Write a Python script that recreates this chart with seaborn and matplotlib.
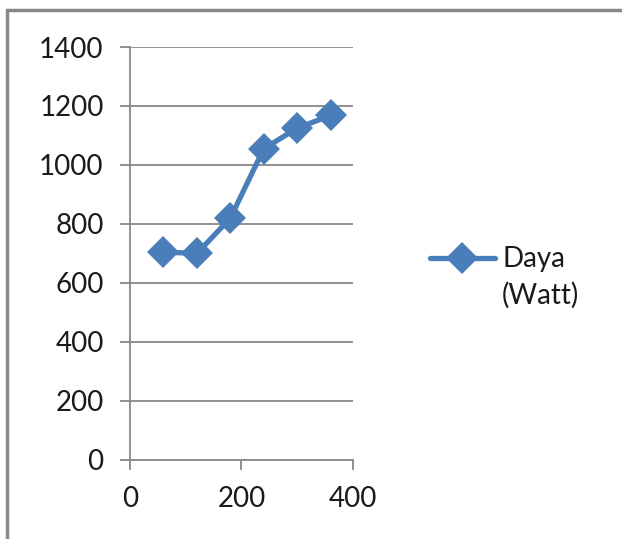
import numpy as np
import pandas as pd
import matplotlib
matplotlib.use("Agg")
import matplotlib.pyplot as plt
import seaborn as sns
from matplotlib.lines import Line2D
from matplotlib.legend_handler import HandlerLine2D

# data
x_vals = [60, 120, 180, 240, 300, 360]
daya = [705, 700, 820, 1055, 1125, 1168]
series_label = "Daya\n(Watt)"
x_ticks = [0, 200, 400]
y_ticks = [0, 200, 400, 600, 800, 1000, 1200, 1400]

df = pd.DataFrame({"x": x_vals, "daya": daya})

sns.set_style("white")
plt.rcParams["font.family"] = ["Lato", "DejaVu Sans"]

grey = "#888888"
blue = "#4A7EBB"
fs = 20


# put the legend line next to the first text line, like Excel does
class FirstLineHandler(HandlerLine2D):
    def create_artists(self, legend, orig_handle, xdescent, ydescent,
                       width, height, fontsize, trans):
        arts = super().create_artists(legend, orig_handle, xdescent, ydescent,
                                      width, height, fontsize, trans)
        for a in arts:
            a.set_ydata(np.asarray(a.get_ydata()) + 14.4)
        return arts


fig = plt.figure(figsize=(6.22, 5.39), dpi=100)
ax = fig.add_axes([0.209, 0.1466, 0.3585, 0.7662])

sns.lineplot(data=df, x="x", y="daya", ax=ax, color=blue, linewidth=3.8,
             marker="D", markersize=16, markeredgewidth=0, label=series_label)

ax.set_xlim(0, 400)
ax.set_ylim(0, 1400)
ax.set_xticks(x_ticks)
ax.set_yticks(y_ticks)
ax.set_xlabel("")
ax.set_ylabel("")

ax.yaxis.grid(True, color=grey, linewidth=1.3)
ax.xaxis.grid(False)
for side in ["top", "right"]:
    ax.spines[side].set_visible(False)
for side in ["left", "bottom"]:
    ax.spines[side].set_color(grey)
    ax.spines[side].set_linewidth(1.3)

ax.tick_params(axis="both", direction="out", length=7, width=1.3, color=grey,
               labelsize=fs, labelcolor="#1a1a1a", pad=12,
               left=True, bottom=True)

handle = ax.get_lines()[0]
leg = ax.legend([handle], [series_label], loc="center left",
                bbox_to_anchor=(0.691, 0.486), bbox_transform=fig.transFigure,
                frameon=False, fontsize=fs, handlelength=2.35, handletextpad=0.25,
                borderpad=0, borderaxespad=0,
                handler_map={Line2D: FirstLineHandler()})
for t in leg.get_texts():
    t.set_color("#1a1a1a")
    t.set_linespacing(1.45)

# outer chart border (cropped at right and bottom)
fig.add_artist(Line2D([7 / 622, 7 / 622], [0, 1 - 10 / 539], transform=fig.transFigure,
                      color=grey, linewidth=2.5))
fig.add_artist(Line2D([7 / 622, 1], [1 - 10 / 539, 1 - 10 / 539], transform=fig.transFigure,
                      color=grey, linewidth=2.5))

fig.savefig("out.png", dpi=100)
